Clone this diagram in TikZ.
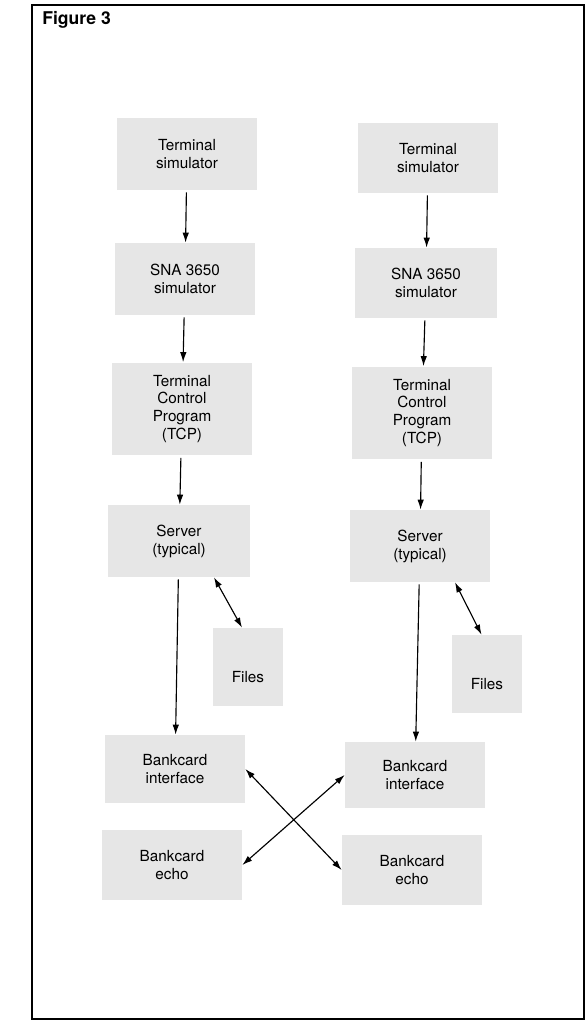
\documentclass[tikz,border=0pt]{standalone}
\usepackage{fontspec}
\setmainfont{TeX Gyre Heros}
\definecolor{stipple}{RGB}{230,230,230}
\usetikzlibrary{arrows.meta,positioning}
\tikzset{
  blk/.style={fill=stipple,align=center,inner sep=2pt,
              font=\fontsize{8.7}{10.2}\selectfont,
              minimum width=28mm,minimum height=14.4mm},
  tall/.style={blk,minimum height=18.6mm},
  filebox/.style={blk,minimum width=14mm,minimum height=15.6mm,text height=6.3mm},
  arr/.style={-{Latex[length=2mm,width=1.3mm]},line width=0.65pt,shorten <=0.4mm},
  dbl/.style={{Latex[length=2mm,width=1.3mm]}-{Latex[length=2mm,width=1.3mm]},
              line width=0.65pt},
  lbl/.style={font=\fontsize{10}{12}\selectfont\bfseries,inner sep=0pt},
}

\begin{document}
\begin{tikzpicture}[x=0.02cm,y=-0.02cm]
    \useasboundingbox (0,0) rectangle (587,1027);
    \draw[line width=0.7pt] (32,5) rectangle (584,1019);
    \node[lbl,anchor=base west] (title) at (42,25) {Figure 3};
    % left side
    \node[blk] (lts) at (187,154) {Terminal\\simulator};
    \node[blk] (lsna) at (185,279) {SNA 3650\\simulator};
    \node[tall] (ltcp) at (182,409) {Terminal\\Control\\Program\\(TCP)};
    \node[blk,minimum width=28.4mm] (lsrv) at (179,541) {Server\\(typical)};
    \node[filebox] (lfiles) at (248,667) {Files};
    \node[blk,minimum height=13.6mm] (lbi) at (175,769) {Bankcard\\interface};
    \node[blk,minimum height=14mm] (lbe) at (172,865) {Bankcard\\echo};
    % right side
    \node[blk,minimum height=14mm] (rts) at (428,158) {Terminal\\simulator};
    \node[blk,minimum width=28.4mm,minimum height=14mm] (rsna) at (426,283) {SNA 3650\\simulator};
    \node[tall] (rtcp) at (422,413) {Terminal\\Control\\Program\\(TCP)};
    \node[blk] (rsrv) at (420,546) {Server\\(typical)};
    \node[filebox] (rfiles) at (487,674) {Files};
    \node[blk,minimum height=13.2mm] (rbi) at (415,775) {Bankcard\\interface};
    \node[blk,minimum height=14mm] (rbe) at (412,870) {Bankcard\\echo};
    % chains
    \draw[arr] (lts) -- (lsna);
    \draw[arr] (lsna) -- (ltcp);
    \draw[arr] (ltcp) -- (lsrv);
    \draw[arr] (lsrv) -- (lbi);
    \draw[arr] (rts) -- (rsna);
    \draw[arr] (rsna) -- (rtcp);
    \draw[arr] (rtcp) -- (rsrv);
    \draw[arr] (rsrv) -- (rbi);
    % files
    \draw[dbl] ([xshift=7mm]lsrv.south) -- ([xshift=-1.2mm]lfiles.north);
    \draw[dbl] ([xshift=7mm]rsrv.south) -- ([xshift=-1.1mm]rfiles.north);
    % cross-over
    \draw[dbl] (lbi.east) -- (rbe.west);
    \draw[dbl] (rbi.west) -- (lbe.east);
\end{tikzpicture}
\end{document}
